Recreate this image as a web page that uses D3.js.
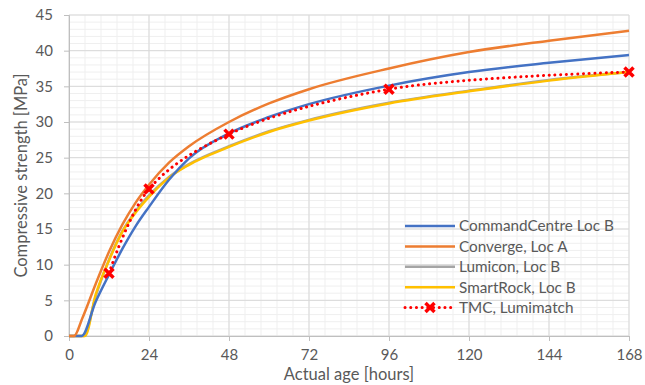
<!DOCTYPE html>
<html>
<head>
<meta charset="utf-8">
<script src="https://cdn.jsdelivr.net/npm/d3@7"></script>
<style>
  body { margin: 0; background: #fff; }
  svg text { font-family: Lato, "Open Sans", sans-serif; fill: #595959; }
</style>
</head>
<body>
<svg id="chart" width="645" height="385"></svg>
<script>
// hours / MPa
const seriesNames = ['CommandCentre Loc B', 'Converge, Loc A', 'Lumicon, Loc B', 'SmartRock, Loc B', 'TMC, Lumimatch'];
const seriesColors = ['#4472C4', '#ED7D31', '#A5A5A5', '#FFC000', '#FF0000'];

const commandHours = [0, 3.8, 8, 12, 16, 20, 24, 30, 36, 48, 60, 72, 96, 120, 144, 168];
const commandVals  = [0, 0, 4.8, 8.6, 12.2, 15.4, 18.1, 21.9, 24.9, 28.4, 30.7, 32.5, 35.1, 37.0, 38.3, 39.4];

const convergeHours = [0, 1.5, 4, 8, 12, 16, 20, 24, 30, 36, 48, 60, 72, 96, 120, 144, 168];
const convergeVals  = [0, 0, 2.5, 7.3, 11.8, 15.6, 18.7, 21.2, 24.3, 26.6, 30.0, 32.6, 34.6, 37.5, 39.8, 41.4, 42.8];

const lumiconHours = [0, 4.5, 8, 12, 16, 20, 24, 30, 36, 48, 60, 72, 96, 120, 144, 168];
const lumiconVals  = [0, 0, 5.6, 10.7, 14.7, 17.5, 19.7, 22.3, 24.1, 26.6, 28.7, 30.3, 32.7, 34.4, 35.9, 37.0];

const smartHours = [0, 4.8, 8, 12, 16, 20, 24, 30, 36, 48, 60, 72, 96, 120, 144, 168];
const smartVals  = [0, 0, 5.8, 10.6, 14.6, 17.3, 19.5, 22.2, 24.0, 26.5, 28.6, 30.2, 32.6, 34.3, 35.8, 37.0];

const tmcHours = [12, 24, 48, 96, 168];
const tmcVals  = [8.8, 20.6, 28.3, 34.6, 37.0];

const xTicks = [0, 24, 48, 72, 96, 120, 144, 168];
const yTicks = [0, 5, 10, 15, 20, 25, 30, 35, 40, 45];

const svg = d3.select('#chart');
const margin = {left: 69, right: 16, top: 15, bottom: 49};
const W = 645, H = 385;

const x = d3.scaleLinear().domain([0, 168]).range([margin.left, W - margin.right]);
const y = d3.scaleLinear().domain([0, 45]).range([H - margin.bottom, margin.top]);

// minor grid
const grid = svg.append('g');
grid.selectAll('.vminor')
  .data(d3.range(0, 168.01, 4.8))
  .enter().append('line')
  .attr('x1', d => x(d)).attr('x2', d => x(d))
  .attr('y1', y(0)).attr('y2', y(45))
  .attr('stroke', '#efefef').attr('stroke-width', 1);
grid.selectAll('.hminor')
  .data(d3.range(0, 46, 1))
  .enter().append('line')
  .attr('x1', x(0)).attr('x2', x(168))
  .attr('y1', d => y(d)).attr('y2', d => y(d))
  .attr('stroke', '#efefef').attr('stroke-width', 1);
// major grid
grid.selectAll('.vmajor')
  .data(xTicks)
  .enter().append('line')
  .attr('x1', d => x(d)).attr('x2', d => x(d))
  .attr('y1', y(0)).attr('y2', y(45))
  .attr('stroke', '#d9d9d9').attr('stroke-width', 1);
grid.selectAll('.hmajor')
  .data(yTicks)
  .enter().append('line')
  .attr('x1', x(0)).attr('x2', x(168))
  .attr('y1', d => y(d)).attr('y2', d => y(d))
  .attr('stroke', '#d9d9d9').attr('stroke-width', 1);

// axes
const xAxis = svg.append('g')
  .attr('transform', `translate(0,${y(0)})`)
  .call(d3.axisBottom(x).tickValues(xTicks).tickSize(5).tickPadding(8));
const yAxis = svg.append('g')
  .attr('transform', `translate(${x(0)},0)`)
  .call(d3.axisLeft(y).tickValues(yTicks).tickSize(5).tickPadding(11));
[xAxis, yAxis].forEach(a => {
  a.select('.domain').attr('stroke', '#bfbfbf');
  a.selectAll('.tick line').attr('stroke', '#bfbfbf');
  a.selectAll('.tick text').attr('font-size', 15).attr('fill', '#595959')
    .style('font-family', 'Lato, sans-serif');
});

svg.append('text')
  .attr('x', (x(0) + x(168)) / 2)
  .attr('y', 380)
  .attr('text-anchor', 'middle')
  .attr('font-size', 16.5)
  .text('Actual age [hours]');

svg.append('text')
  .attr('transform', `translate(27,${(y(0) + y(45)) / 2}) rotate(-90)`)
  .attr('text-anchor', 'middle')
  .attr('font-size', 16.5)
  .text('Compressive strength [MPa]');

// curves
const line = d3.line()
  .x(d => x(d[0]))
  .y(d => y(d[1]))
  .curve(d3.curveMonotoneX);

const curves = [
  [commandHours, commandVals, 0],
  [convergeHours, convergeVals, 1],
  [lumiconHours, lumiconVals, 2],
  [smartHours, smartVals, 3]
];
// draw order: gray below yellow
[2, 3, 0, 1].forEach(k => {
  const c = curves.find(cc => cc[2] === k);
  const pts = c[0].map((h, i) => [h, c[1][i]]);
  svg.append('path')
    .attr('d', line(pts))
    .attr('fill', 'none')
    .attr('stroke', seriesColors[k])
    .attr('stroke-width', 2.5);
});

const tmcPts = tmcHours.map((h, i) => [h, tmcVals[i]]);
svg.append('path')
  .attr('d', d3.line().x(d => x(d[0])).y(d => y(d[1])).curve(d3.curveCatmullRom)(tmcPts))
  .attr('fill', 'none')
  .attr('stroke', seriesColors[4])
  .attr('stroke-width', 3)
  .attr('stroke-linecap', 'round')
  .attr('stroke-dasharray', '0.1 5.6');

function cross(g, cx, cy) {
  const s = 4.5;
  g.append('path')
    .attr('d', `M${cx - s},${cy - s}L${cx + s},${cy + s}M${cx - s},${cy + s}L${cx + s},${cy - s}`)
    .attr('stroke', seriesColors[4])
    .attr('stroke-width', 3.5)
    .attr('fill', 'none');
}
tmcPts.forEach(p => cross(svg, x(p[0]), y(p[1])));

// legend
const legend = svg.append('g');
const legY0 = 226, legStep = 20.4;
seriesNames.forEach((name, i) => {
  const ly = legY0 + i * legStep;
  if (i < 4) {
    legend.append('line')
      .attr('x1', 405).attr('x2', 455)
      .attr('y1', ly).attr('y2', ly)
      .attr('stroke', seriesColors[i]).attr('stroke-width', 2.5);
  } else {
    legend.append('line')
      .attr('x1', 405).attr('x2', 455)
      .attr('y1', ly).attr('y2', ly)
      .attr('stroke', seriesColors[i]).attr('stroke-width', 3)
      .attr('stroke-linecap', 'round')
      .attr('stroke-dasharray', '0.1 5.6');
    cross(legend, 430, ly);
  }
  legend.append('text')
    .attr('x', 459)
    .attr('y', ly)
    .attr('dy', '0.35em')
    .attr('font-size', 15.3)
    .text(name);
});
</script>
</body>
</html>
